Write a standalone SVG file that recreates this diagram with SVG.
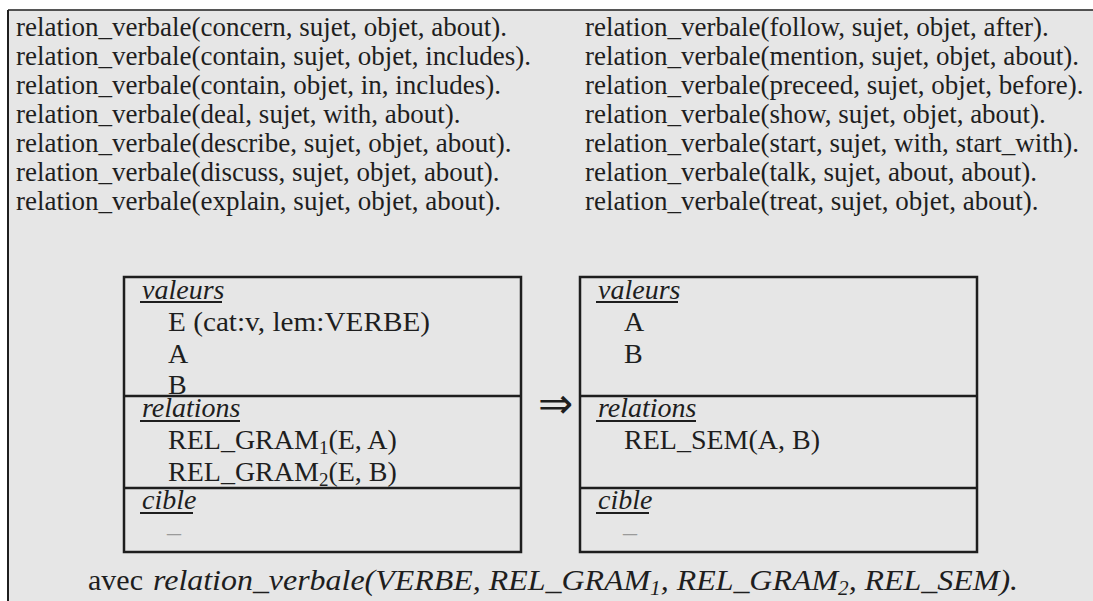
<svg xmlns="http://www.w3.org/2000/svg" width="1093" height="601" viewBox="0 0 1093 601">
<style>
.t{font-family:"Liberation Serif","Times New Roman",serif;font-size:27px;fill:#1e1e1e}
.b{font-family:"Liberation Serif","Times New Roman",serif;font-size:28px;fill:#1e1e1e}
.c{font-family:"Liberation Serif","Times New Roman",serif;font-size:30px;fill:#1e1e1e}
.i{font-style:italic}
.box{fill:none;stroke:#1e1e1e;stroke-width:2.5}
.div{stroke:#1e1e1e;stroke-width:2.5}
.ul{stroke:#1e1e1e;stroke-width:2}
.dash{font-family:"Liberation Serif",serif;font-size:28px;fill:#9a9a9a}
</style>
<rect x="0" y="0" width="1093" height="601" fill="#ffffff"/>
<rect x="8" y="10" width="1085" height="591" fill="#e6e6e6"/>
<line x1="8" y1="10" x2="1093" y2="10" stroke="#1e1e1e" stroke-width="1.5"/>
<line x1="8" y1="10" x2="8" y2="601" stroke="#1e1e1e" stroke-width="2"/>

<g id="listing">
<text class="t" x="16" y="36">relation_verbale(concern, sujet, objet, about).</text>
<text class="t" x="16" y="65">relation_verbale(contain, sujet, objet, includes).</text>
<text class="t" x="16" y="94">relation_verbale(contain, objet, in, includes).</text>
<text class="t" x="16" y="123">relation_verbale(deal, sujet, with, about).</text>
<text class="t" x="16" y="152">relation_verbale(describe, sujet, objet, about).</text>
<text class="t" x="16" y="181">relation_verbale(discuss, sujet, objet, about).</text>
<text class="t" x="16" y="210">relation_verbale(explain, sujet, objet, about).</text>
<text class="t" x="585" y="36">relation_verbale(follow, sujet, objet, after).</text>
<text class="t" x="585" y="65">relation_verbale(mention, sujet, objet, about).</text>
<text class="t" x="585" y="94">relation_verbale(preceed, sujet, objet, before).</text>
<text class="t" x="585" y="123">relation_verbale(show, sujet, objet, about).</text>
<text class="t" x="585" y="152">relation_verbale(start, sujet, with, start_with).</text>
<text class="t" x="585" y="181">relation_verbale(talk, sujet, about, about).</text>
<text class="t" x="585" y="210">relation_verbale(treat, sujet, objet, about).</text>
</g>

<g id="node-left">
<rect class="box" x="124" y="277" width="397" height="275"/>
<line class="div" x1="124" y1="396" x2="521" y2="396"/>
<line class="div" x1="124" y1="488" x2="521" y2="488"/>
<text class="b i" x="142" y="299">valeurs</text>
<line class="ul" x1="140" y1="302" x2="222" y2="302"/>
<text class="b" x="168" y="331" textLength="262" lengthAdjust="spacingAndGlyphs">E (cat:v, lem:VERBE)</text>
<text class="b" x="168" y="363">A</text>
<text class="b" x="168" y="394">B</text>
<text class="b i" x="142" y="417">relations</text>
<line class="ul" x1="140" y1="421" x2="240" y2="421"/>
<text class="b" x="168" y="449">REL_GRAM<tspan font-size="19" dy="5">1</tspan><tspan dy="-5">(E, A)</tspan></text>
<text class="b" x="168" y="481">REL_GRAM<tspan font-size="19" dy="5">2</tspan><tspan dy="-5">(E, B)</tspan></text>
<text class="b i" x="142" y="509">cible</text>
<line class="ul" x1="140" y1="513" x2="193" y2="513"/>
<text class="dash" x="167" y="541">–</text>
</g>

<g id="connectors">
<text x="555.5" y="418" text-anchor="middle" font-family="DejaVu Sans, sans-serif" font-size="42" fill="#1e1e1e">⇒</text>
</g>

<g id="node-right">
<rect class="box" x="580" y="277" width="397" height="275"/>
<line class="div" x1="580" y1="396" x2="977" y2="396"/>
<line class="div" x1="580" y1="488" x2="977" y2="488"/>
<text class="b i" x="598" y="299">valeurs</text>
<line class="ul" x1="596" y1="302" x2="678" y2="302"/>
<text class="b" x="624" y="331">A</text>
<text class="b" x="624" y="363">B</text>
<text class="b i" x="598" y="417">relations</text>
<line class="ul" x1="596" y1="421" x2="696" y2="421"/>
<text class="b" x="624" y="449">REL_SEM(A, B)</text>
<text class="b i" x="598" y="509">cible</text>
<line class="ul" x1="596" y1="513" x2="649" y2="513"/>
<text class="dash" x="623" y="541">–</text>
</g>

<g id="caption">
<text class="c" x="88" y="590">avec</text>
<text class="c i" x="153" y="590" textLength="865" lengthAdjust="spacingAndGlyphs">relation_verbale(VERBE, REL_GRAM<tspan font-size="20" dy="5">1</tspan><tspan dy="-5">, REL_GRAM</tspan><tspan font-size="20" dy="5">2</tspan><tspan dy="-5">, REL_SEM).</tspan></text>
</g>
</svg>
